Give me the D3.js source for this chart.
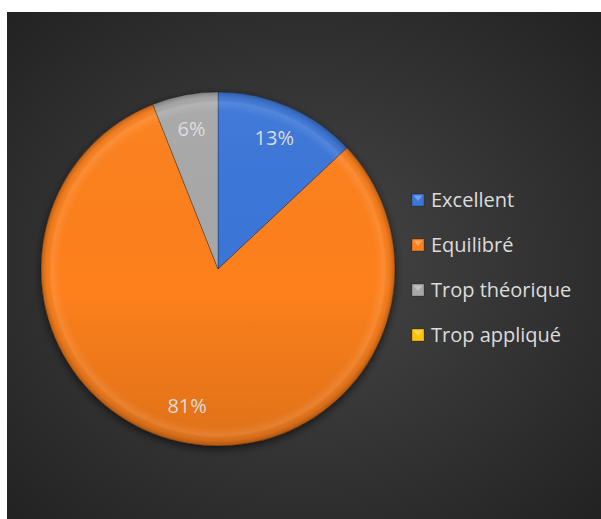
<!DOCTYPE html>
<html>
<head>
<meta charset="utf-8">
<script src="https://cdn.jsdelivr.net/npm/d3@7"></script>
<style>
  body { margin: 0; background: #fff; }
  svg { display: block; }
</style>
</head>
<body>
<div id="chart"></div>
<script>
// data
const categories = ["Excellent", "Equilibré", "Trop théorique", "Trop appliqué"];
const shares = [13, 81, 6, 0];
const colors = ["#3b76d8", "#fd801e", "#a8a8a8", "#ffc20a"];

const width = 601, height = 519;
const cx = 218, cy = 269, radius = 177;

const svg = d3.select("#chart")
    .append("svg")
    .attr("width", width)
    .attr("height", height);

const defs = svg.append("defs");

// dark background with a soft radial light
const bg = defs.append("radialGradient")
    .attr("id", "bg")
    .attr("cx", "50%").attr("cy", "50%").attr("r", "75%");
bg.append("stop").attr("offset", "0%").attr("stop-color", "#474747");
bg.append("stop").attr("offset", "100%").attr("stop-color", "#202020");

// bevel look on the slices (coords are relative to the pie centre)
const bevel = defs.append("radialGradient")
    .attr("id", "bevel")
    .attr("gradientUnits", "userSpaceOnUse")
    .attr("cx", 0).attr("cy", 0).attr("r", radius);
bevel.append("stop").attr("offset", "0%").attr("stop-color", "#fff").attr("stop-opacity", 0);
bevel.append("stop").attr("offset", "89%").attr("stop-color", "#fff").attr("stop-opacity", 0);
bevel.append("stop").attr("offset", "94%").attr("stop-color", "#fff").attr("stop-opacity", 0.1);
bevel.append("stop").attr("offset", "97%").attr("stop-color", "#000").attr("stop-opacity", 0.04);
bevel.append("stop").attr("offset", "100%").attr("stop-color", "#000").attr("stop-opacity", 0.25);

// light from the top, slices get a bit darker toward the bottom
const shade = defs.append("linearGradient")
    .attr("id", "shade")
    .attr("gradientUnits", "userSpaceOnUse")
    .attr("x1", 0).attr("y1", -radius).attr("x2", 0).attr("y2", radius);
shade.append("stop").attr("offset", "0%").attr("stop-color", "#fff").attr("stop-opacity", 0.04);
shade.append("stop").attr("offset", "55%").attr("stop-color", "#000").attr("stop-opacity", 0);
shade.append("stop").attr("offset", "100%").attr("stop-color", "#000").attr("stop-opacity", 0.12);

const shadow = defs.append("filter")
    .attr("id", "shadow")
    .attr("x", "-20%").attr("y", "-20%").attr("width", "140%").attr("height", "140%");
shadow.append("feDropShadow")
    .attr("dx", 0).attr("dy", 3)
    .attr("stdDeviation", 4)
    .attr("flood-color", "#000")
    .attr("flood-opacity", 0.6);

svg.append("rect")
    .attr("x", 7).attr("y", 12)
    .attr("width", width - 7).attr("height", height - 12)
    .attr("fill", "url(#bg)");

const pie = d3.pie().sort(null).value(d => d);
const arcs = pie(shares);
const arc = d3.arc().innerRadius(0).outerRadius(radius);
const labelArc = d3.arc().innerRadius(radius * 0.8).outerRadius(radius * 0.8);

const g = svg.append("g")
    .attr("transform", "translate(" + cx + "," + cy + ")");

const shown = arcs.filter(d => d.data > 0);

g.append("g")
    .attr("filter", "url(#shadow)")
    .selectAll("path")
    .data(shown)
    .enter()
    .append("path")
    .attr("d", arc)
    .attr("fill", d => colors[d.index])
    .attr("stroke", "rgba(0,0,0,0.35)")
    .attr("stroke-width", 0.8);

["shade", "bevel"].forEach(function (id) {
    g.selectAll("." + id)
        .data(shown)
        .enter()
        .append("path")
        .attr("class", id)
        .attr("d", arc)
        .attr("fill", "url(#" + id + ")")
        .attr("pointer-events", "none");
});

g.selectAll(".label")
    .data(shown)
    .enter()
    .append("text")
    .attr("class", "label")
    .attr("transform", d => "translate(" + labelArc.centroid(d) + ")")
    .attr("text-anchor", "middle")
    .attr("dy", "0.3em")
    .attr("fill", "#dcdcdc")
    .style("font-family", "'Open Sans', 'Noto Sans', sans-serif")
    .style("font-size", "20px")
    .text(d => d.data + "%");

// legend
const legend = svg.append("g")
    .attr("transform", "translate(412,200)");

const item = legend.selectAll("g")
    .data(categories)
    .enter()
    .append("g")
    .attr("transform", (d, i) => "translate(0," + i * 45 + ")");

item.append("rect")
    .attr("x", 0).attr("y", -6)
    .attr("width", 12).attr("height", 12)
    .attr("fill", (d, i) => colors[i])
    .attr("stroke", "rgba(0,0,0,0.4)")
    .attr("stroke-width", 0.6);

item.append("path")
    .attr("d", "M1.5,-4.5 L10.5,-4.5 L6,1 Z")
    .attr("fill", "rgba(255,255,255,0.3)");

item.append("text")
    .attr("x", 19)
    .attr("dy", "0.35em")
    .attr("fill", "#dcdcdc")
    .style("font-family", "'Open Sans', 'Noto Sans', sans-serif")
    .style("font-size", "20px")
    .text(d => d);
</script>
</body>
</html>
